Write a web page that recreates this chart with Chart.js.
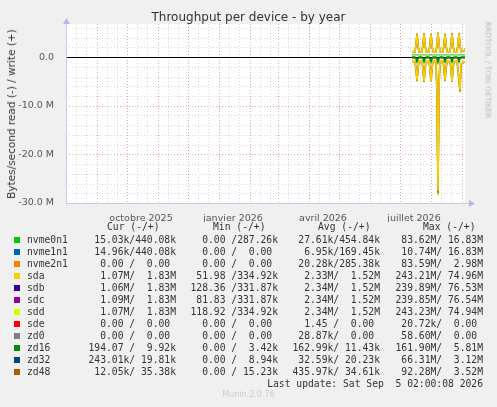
<!DOCTYPE html>
<html><head><meta charset="utf-8">
<script src="https://cdn.jsdelivr.net/npm/chart.js@4"></script>
<style>
body{margin:0;background:#f0f0f0;width:497px;height:407px;position:relative;overflow:hidden;font-family:"DejaVu Sans",sans-serif}
#c{position:absolute;left:0;top:0}
.t{position:absolute;white-space:pre;font-family:"DejaVu Sans Mono",monospace;font-size:9.7px;color:#333;line-height:12px}
.r{text-align:right}
.sq{position:absolute;width:6px;height:6px}
</style></head><body>
<canvas id="c" width="497" height="222"></canvas>
<div style="position:absolute;left:0;width:497px;top:10px;text-align:center;font-size:12px;color:#333">Throughput per device - by year</div>
<div style="position:absolute;left:11px;top:114px;transform:translate(-50%,-50%) rotate(-90deg);font-size:10.5px;color:#333;white-space:nowrap">Bytes/second read (-) / write (+)</div>
<div style="position:absolute;left:488px;top:70px;transform:translate(-50%,-50%) rotate(90deg);font-size:7.5px;color:#bbb;white-space:nowrap">RRDTOOL / TOBI OETIKER</div>
<div id="leg"></div>
<div class="t r" style="right:14px;top:378px">Last update: Sat Sep  5 02:00:08 2026</div>
<div style="position:absolute;left:0;width:497px;top:390px;text-align:center;font-size:8px;color:#ccc">Munin 2.0.76</div>
<script>
const names=["nvme0n1","nvme1n1","nvme2n1","sda","sdb","sdc","sdd","sde","zd0","zd16","zd32","zd48"];
const colors=["#00CC00","#0066B3","#FF8000","#FFCC00","#330099","#990099","#CCFF00","#FF0000","#808080","#008F00","#00487D","#B35A00"];
const curCol=["15.03k/440.08k","14.96k/440.08k","0.00 /  0.00 ","1.07M/  1.83M","1.06M/  1.83M","1.09M/  1.83M","1.07M/  1.83M","0.00 /  0.00 ","0.00 /  0.00 ","194.07 /  9.92k","243.01k/ 19.81k","12.05k/ 35.38k"];
const minCol=["0.00 /287.26k","0.00 /  0.00 ","0.00 /  0.00 ","51.98 /334.92k","128.36 /331.87k","81.83 /331.87k","118.92 /334.92k","0.00 /  0.00 ","0.00 /  0.00 ","0.00 /  3.42k","0.00 /  8.94k","0.00 / 15.23k"];
const avgCol=["27.61k/454.84k","6.95k/169.45k","20.28k/285.38k","2.33M/  1.52M","2.34M/  1.52M","2.34M/  1.52M","2.34M/  1.52M","1.45 /  0.00 ","28.87k/  0.00 ","162.99k/ 11.43k","32.59k/ 20.23k","435.97k/ 34.61k"];
const maxCol=["83.62M/ 16.83M","10.74M/ 16.83M","83.59M/  2.98M","243.21M/ 74.96M","239.89M/ 76.53M","239.85M/ 76.54M","243.23M/ 74.94M","20.72k/  0.00 ","58.60M/  0.00 ","161.90M/  5.81M","66.31M/  3.12M","92.28M/  3.52M"];

const days=[346,349,350,351,352,353,356,357,358,359,360,363,364,365,366,367,370,371,372,373,374,377,378,379,380,381,384,385,386,387,388,391,392,393,394,395,398,399];
const sdaW=[1.1,1.1,2.5,4.7,2.5,1.1,1.1,2.6,4.8,2.6,1.1,1.1,2.5,4.7,2.5,1.1,1.1,2.6,4.9,2.6,1.1,1.1,2.5,4.7,2.5,1.1,1.1,2.6,4.8,2.6,1.1,1.1,2.5,4.8,2.5,1.1,1.2,1.7];
const sdaR=[-0.9,-0.9,-2.3,-4.8,-2.3,-0.9,-0.9,-2.5,-5.0,-2.5,-0.9,-0.9,-2.4,-5.0,-2.4,-0.9,-0.9,-7.5,-27.5,-5.8,-0.9,-0.9,-2.3,-4.8,-2.3,-0.9,-0.9,-2.3,-4.9,-2.3,-0.9,-0.9,-2.5,-4.8,-6.8,-1.4,-1.0,-1.1];
const sdbW=[1.1,1.1,2.4,4.8,2.4,1.1,1.1,2.6,4.9,2.6,1.1,1.1,2.5,4.8,2.5,1.1,1.1,2.6,5.0,2.6,1.1,1.1,2.5,4.8,2.5,1.1,1.1,2.6,4.9,2.6,1.1,1.1,2.5,4.9,2.5,1.1,1.2,1.7];
const sdbR=[-0.9,-0.9,-2.4,-4.9,-2.4,-0.9,-0.9,-2.5,-5.1,-2.5,-0.9,-0.9,-2.4,-5.0,-2.4,-0.9,-0.9,-7.6,-28.0,-5.9,-0.9,-0.9,-2.4,-4.9,-2.4,-0.9,-0.9,-2.4,-5.0,-2.4,-0.9,-0.9,-2.5,-4.9,-7.0,-1.5,-1.0,-1.1];
const sdcW=[1.1,1.1,2.5,4.8,2.5,1.1,1.1,2.6,4.9,2.6,1.1,1.1,2.5,4.8,2.5,1.1,1.1,2.6,5.0,2.6,1.1,1.1,2.5,4.8,2.5,1.1,1.1,2.6,4.9,2.6,1.1,1.1,2.5,4.9,2.5,1.1,1.2,1.7];
const sdcR=[-0.9,-0.9,-2.4,-4.9,-2.4,-0.9,-0.9,-2.5,-5.1,-2.5,-0.9,-0.9,-2.4,-5.0,-2.4,-0.9,-0.9,-7.7,-28.0,-5.9,-0.9,-0.9,-2.4,-4.9,-2.4,-0.9,-0.9,-2.4,-5.0,-2.4,-0.9,-0.9,-2.5,-4.9,-7.1,-1.5,-1.0,-1.1];
const sddW=[1.2,1.2,2.6,4.9,2.6,1.2,1.2,2.7,5.0,2.7,1.2,1.2,2.6,4.9,2.6,1.2,1.2,2.7,5.1,2.7,1.2,1.2,2.6,4.9,2.6,1.2,1.2,2.7,5.0,2.7,1.2,1.2,2.6,5.0,2.6,1.2,1.3,1.8];
const sddR=[-0.9,-0.9,-2.4,-5.0,-2.4,-0.9,-0.9,-2.6,-5.2,-2.6,-0.9,-0.9,-2.5,-5.1,-2.5,-0.9,-0.9,-7.8,-28.5,-6.0,-0.9,-0.9,-2.4,-5.0,-2.4,-0.9,-0.9,-2.4,-5.1,-2.4,-0.9,-0.9,-2.6,-5.0,-7.3,-1.5,-1.0,-1.2];
const nvme0W=[0.44,0.44,0.44,0.44,0.44,0.44,0.44,0.44,0.44,0.44,0.44,0.44,0.44,0.44,0.44,0.44,0.44,0.44,0.44,0.44,0.44,0.44,0.44,0.44,0.44,0.44,0.44,0.44,0.44,0.44,0.44,0.44,0.44,0.44,0.44,0.44,0.44,0.44];
const zd48R=[-0.2,-0.2,-0.3,-0.5,-0.3,-0.2,-0.2,-0.3,-0.5,-0.3,-0.2,-0.2,-0.3,-0.5,-0.3,-0.2,-0.2,-0.3,-0.6,-0.3,-0.2,-0.2,-0.3,-0.5,-0.3,-0.2,-0.2,-0.3,-0.5,-0.3,-0.2,-0.2,-0.3,-0.5,-0.3,-0.2,-0.2,-0.2];
const zd16R=[0,0,-0.3,-1.0,-0.3,0,0,-0.3,-1.0,-0.3,0,0,-0.3,-1.0,-0.3,0,0,-0.3,-1.1,-0.3,0,0,-0.3,-1.0,-0.3,0,0,-0.3,-1.0,-0.3,0,0,-0.3,-1.0,-0.3,0,0,0];
const monthStarts=[0,31,61,92,122,153,184,212,243,273,304,334,365,396];
const tickDays=[75,167,257,348];
const tickLabels=["octobre 2025","janvier 2026","avril 2026","juillet 2026"];

const leg=document.getElementById('leg');
let h='<div class="t" style="left:107px;top:221px">Cur (-/+)</div><div class="t" style="left:213px;top:221px">Min (-/+)</div><div class="t" style="left:318px;top:221px">Avg (-/+)</div><div class="t" style="left:423px;top:221px">Max (-/+)</div>';
names.forEach((n,i)=>{const y=234+i*12;
h+=`<div class="sq" style="left:14px;top:${y+3}px;background:${colors[i]}"></div><div class="t" style="left:27px;top:${y}px">${n}</div>`;
h+=`<div class="t r" style="right:${497-176}px;top:${y}px">${curCol[i]}</div><div class="t r" style="right:${497-278}px;top:${y}px">${minCol[i]}</div><div class="t r" style="right:${497-380}px;top:${y}px">${avgCol[i]}</div><div class="t r" style="right:${497-483}px;top:${y}px">${maxCol[i]}</div>`;});
leg.innerHTML=h;

const pts=v=>days.map((d,i)=>({x:d,y:v[i]}));
const ds=(v,c,w)=>({data:pts(v),borderColor:c,borderWidth:w||1,pointRadius:0,tension:0,fill:false});
const datasets=[ds(nvme0W,colors[0]),ds(zd16R,colors[9],1.5),ds(zd48R,colors[11],1.5),
 ds(sdaW,colors[3],1.5),ds(sdaR,colors[3],1.5),ds(sdbW,'#8a7a40',1.5),ds(sdbR,'#8a7a40',1.5),ds(sdcW,'#a89050',1.5),ds(sdcR,'#a89050',1.5),ds(sddW,colors[6],1.5),ds(sddR,colors[6],1.5)];

const grid={id:'g',beforeDatasetsDraw(ch){const c=ch.ctx,a=ch.chartArea,x=ch.scales.x,y=ch.scales.y;c.save();c.lineWidth=1;
 c.fillStyle='#fff';c.fillRect(a.left,a.top,a.right-a.left,a.bottom-a.top);
 c.setLineDash([1,2]);c.strokeStyle='#d8d8d8';
 for(let d=0;d<=400;d++){const dt=new Date(2025,7,1+d);if(dt.getDate()==11||dt.getDate()==21){const px=Math.round(x.getPixelForValue(d))+.5;c.beginPath();c.moveTo(px,a.top);c.lineTo(px,a.bottom);c.stroke();}}
 for(let v=-30;v<=6;v+=2){if(v%10==0)continue;const py=Math.round(y.getPixelForValue(v))+.5;c.beginPath();c.moveTo(a.left,py);c.lineTo(a.right,py);c.stroke();}
 c.strokeStyle='#eaa0a0';
 monthStarts.forEach(d=>{const px=Math.round(x.getPixelForValue(d))+.5;c.beginPath();c.moveTo(px,a.top);c.lineTo(px,a.bottom);c.stroke();});
 [-30,-20,-10].forEach(v=>{const py=Math.round(y.getPixelForValue(v))+.5;c.beginPath();c.moveTo(a.left,py);c.lineTo(a.right,py);c.stroke();});
 c.setLineDash([]);c.strokeStyle='#000';const p0=Math.round(y.getPixelForValue(0))+.5;c.beginPath();c.moveTo(a.left,p0);c.lineTo(a.right,p0);c.stroke();
 c.strokeStyle='#c8c8e8';c.beginPath();c.moveTo(a.left+.5,a.bottom);c.lineTo(a.left+.5,a.top-4);c.moveTo(a.left,a.bottom+.5);c.lineTo(a.right+5,a.bottom+.5);c.stroke();
 c.fillStyle='#b8b8f0';c.beginPath();c.moveTo(a.right+10,a.bottom+.5);c.lineTo(a.right+4,a.bottom-3);c.lineTo(a.right+4,a.bottom+4);c.fill();
 c.beginPath();c.moveTo(a.left+.5,a.top-6);c.lineTo(a.left-3,a.top);c.lineTo(a.left+4,a.top);c.fill();
 c.restore();}};

new Chart(document.getElementById('c'),{type:'line',data:{datasets},plugins:[grid],
options:{responsive:false,animation:false,events:[],layout:{padding:{top:24,right:32,left:0,bottom:0}},
plugins:{legend:{display:false},tooltip:{enabled:false}},
scales:{x:{type:'linear',min:0,max:399,grid:{display:false},border:{display:false},
  afterBuildTicks:s=>{s.ticks=tickDays.map(v=>({value:v}));},
  afterFit:s=>{s.height=19;},
  ticks:{autoSkip:false,maxRotation:0,padding:2,color:'#555',font:{family:'DejaVu Sans',size:9.5},callback:(v)=>tickLabels[tickDays.indexOf(v)]}},
 y:{min:-30,max:6.8,grid:{display:false},border:{display:false},
  afterBuildTicks:s=>{s.ticks=[-30,-20,-10,0].map(v=>({value:v}));},
  afterFit:s=>{s.width=66;},
  ticks:{padding:4,color:'#555',font:{family:'DejaVu Sans',size:9.5},callback:v=>v==0?'0.0':v.toFixed(1)+' M'}}}}});
</script></body></html>
